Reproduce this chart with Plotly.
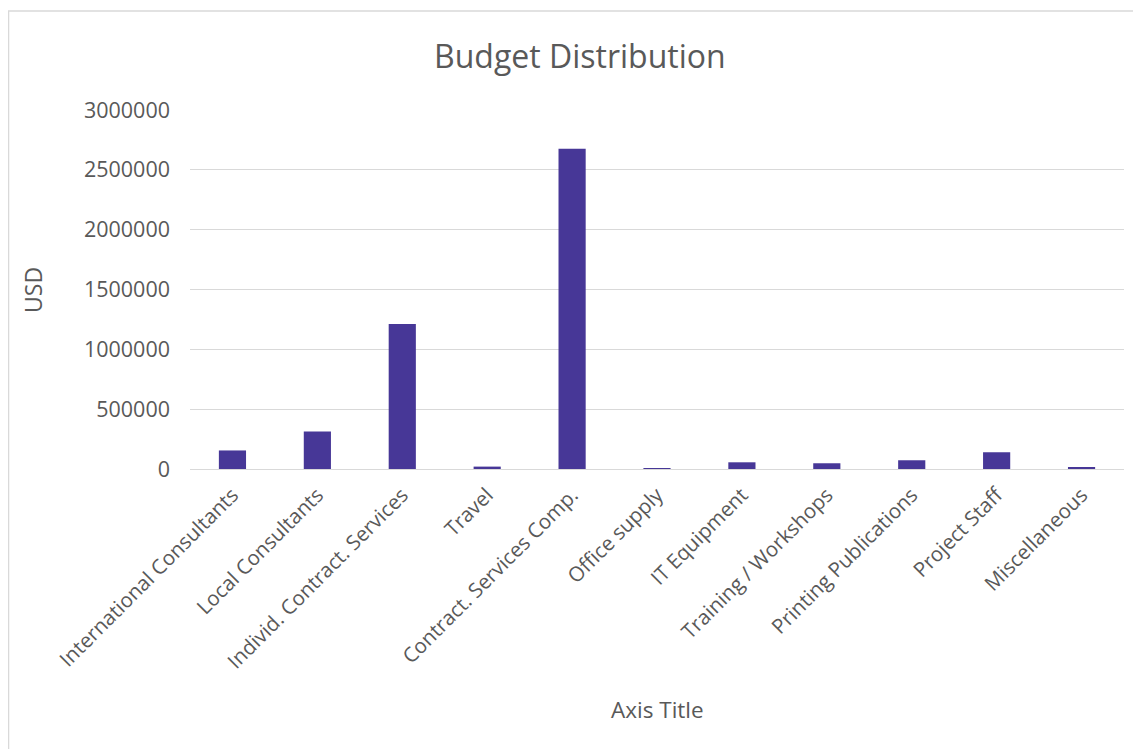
import plotly.graph_objects as go

categories = ["International Consultants", "Local Consultants", "Individ. Contract. Services",
              "Travel", "Contract. Services Comp.", "Office supply", "IT Equipment",
              "Training / Workshops", "Printing Publications", "Project Staff", "Miscellaneous"]
values = [155000, 313000, 1212000, 20000, 2677000, 8000, 56000, 48000, 73000, 140000, 14000]
y_ticks = [0, 500000, 1000000, 1500000, 2000000, 2500000, 3000000]

FONT = "Open Sans"
GREY = "#595959"

fig = go.Figure(go.Bar(x=categories, y=values, marker=dict(color="#473797", line=dict(width=0))))

fig.update_layout(
    width=1141, height=749,
    margin=dict(l=182, r=25, t=102, b=288),
    paper_bgcolor="white", plot_bgcolor="white",
    bargap=0.68,
    showlegend=False,
    font=dict(family=FONT, color=GREY),
    xaxis=dict(tickangle=-45, tickfont=dict(size=20.5, color=GREY), showgrid=False,
               showline=True, linecolor="#d9d9d9", linewidth=1, ticks="", ticklabelstandoff=5),
    yaxis=dict(range=[0, 3000000], tickvals=y_ticks, ticktext=[str(v) for v in y_ticks],
               tickfont=dict(size=21.5, color=GREY), showgrid=True, gridcolor="#d9d9d9", gridwidth=1,
               zeroline=False, showline=False, ticks="", ticklabelstandoff=19),
    annotations=[
        dict(text="Budget Distribution", x=0.4176, y=1.1532, xref="paper", yref="paper",
             showarrow=False, font=dict(size=32, color=GREY, family=FONT), xanchor="center", yanchor="middle"),
        dict(text="Axis Title", x=0.501, y=-0.6713, xref="paper", yref="paper",
             showarrow=False, font=dict(size=22.5, color=GREY, family=FONT), xanchor="center", yanchor="middle"),
        dict(text="USD", x=-0.1681, y=0.4986, xref="paper", yref="paper", textangle=-90,
             showarrow=False, font=dict(size=23, color=GREY, family=FONT), xanchor="center", yanchor="middle"),
    ],
    shapes=[dict(type="rect", xref="paper", yref="paper", x0=-0.1943, x1=1.05, y0=-0.9, y1=1.2758,
                 line=dict(color="#d9d9d9", width=1.5), fillcolor="rgba(0,0,0,0)", layer="below")],
)

fig.write_html("out.html")
